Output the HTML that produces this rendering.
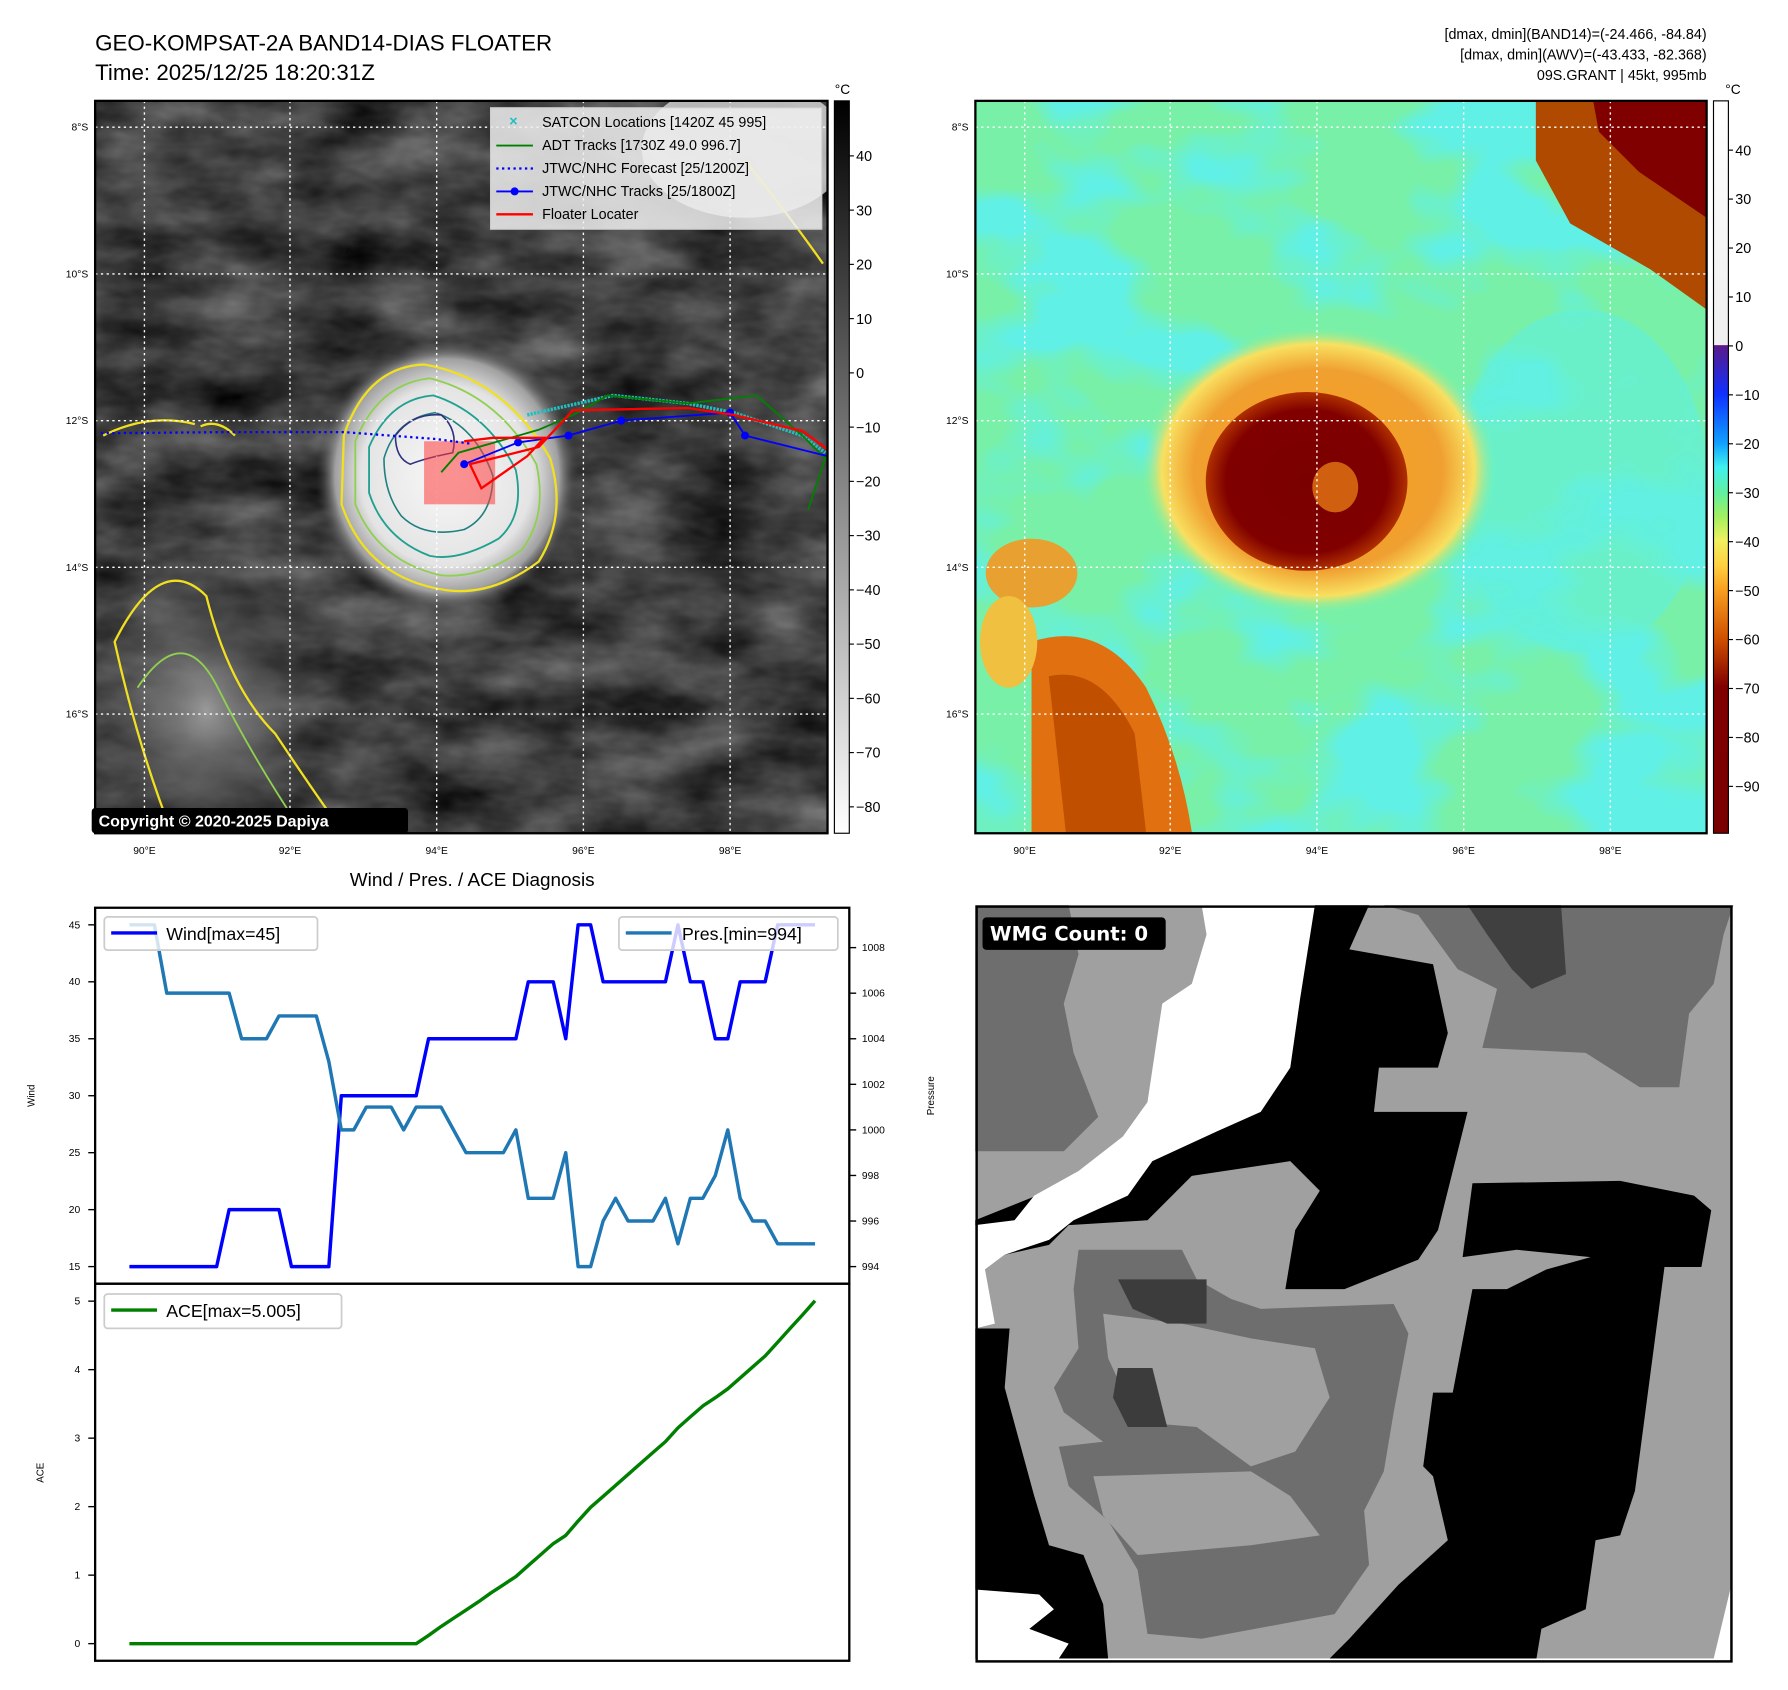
<!DOCTYPE html>
<html><head><meta charset="utf-8"><style>
html,body{margin:0;padding:0;background:#fff;}
svg{display:block;font-family:"Liberation Sans","DejaVu Sans",sans-serif;}
</style></head><body>
<svg id="root" width="1788" height="1690" viewBox="0 0 1560 1474.5" xmlns="http://www.w3.org/2000/svg">
<defs>
<linearGradient id="cb1" x1="0" y1="0" x2="0" y2="1"><stop offset="0" stop-color="#000"/><stop offset="1" stop-color="#fff"/></linearGradient>
<linearGradient id="cb2" x1="0" y1="0" x2="0" y2="1">
<stop offset="0" stop-color="#ffffff"/><stop offset="0.333" stop-color="#efefef"/>
<stop offset="0.334" stop-color="#5a1a8a"/><stop offset="0.40" stop-color="#1030ff"/>
<stop offset="0.467" stop-color="#10a0ff"/><stop offset="0.50" stop-color="#40f0f0"/>
<stop offset="0.534" stop-color="#60f0a0"/><stop offset="0.567" stop-color="#a0f060"/>
<stop offset="0.60" stop-color="#f0f060"/><stop offset="0.634" stop-color="#ffd040"/>
<stop offset="0.667" stop-color="#f8a020"/><stop offset="0.734" stop-color="#d05000"/>
<stop offset="0.80" stop-color="#800000"/><stop offset="1" stop-color="#7a0000"/></linearGradient>
<radialGradient id="storm1"><stop offset="0" stop-color="#f8f8f8"/><stop offset="0.65" stop-color="#e4e4e4"/><stop offset="0.85" stop-color="#a0a0a0"/><stop offset="1" stop-color="#3c3c3c" stop-opacity="0"/></radialGradient>
<radialGradient id="band1"><stop offset="0" stop-color="#9a9a9a"/><stop offset="1" stop-color="#3c3c3c" stop-opacity="0"/></radialGradient>
<radialGradient id="storm2"><stop offset="0" stop-color="#f8a020"/><stop offset="0.7" stop-color="#f0a030"/><stop offset="0.88" stop-color="#f8e060"/><stop offset="1" stop-color="#80f0a0" stop-opacity="0"/></radialGradient>
<radialGradient id="eye2"><stop offset="0" stop-color="#7a0000"/><stop offset="0.8" stop-color="#800000"/><stop offset="1" stop-color="#b03000"/></radialGradient>
<filter id="noise1" x="0" y="0" width="100%" height="100%" color-interpolation-filters="sRGB">
<feTurbulence type="fractalNoise" baseFrequency="0.012 0.025" numOctaves="4" seed="3"/>
<feColorMatrix type="matrix" values="0.55 0 0 0 -0.03  0.55 0 0 0 -0.03  0.55 0 0 0 -0.03  0 0 0 0 1"/>
</filter>
<filter id="noise2" x="0" y="0" width="100%" height="100%" color-interpolation-filters="sRGB">
<feTurbulence type="fractalNoise" baseFrequency="0.008 0.012" numOctaves="3" seed="7"/>
<feColorMatrix type="matrix" values="0 0 0 0 0.38  0 0 0 0 0.94  0 0 0 0 0.9  5 0 0 0 -2.3"/>
</filter>
<clipPath id="c1"><rect x="83" y="88" width="639" height="639"/></clipPath>
<clipPath id="c2"><rect x="851" y="88" width="638" height="639"/></clipPath>
<clipPath id="cw"><rect x="83" y="792" width="658" height="328"/></clipPath>
<clipPath id="ca"><rect x="83" y="1120" width="658" height="329"/></clipPath>
</defs>

<!-- Titles -->
<text x="83" y="44" font-size="19.5">GEO-KOMPSAT-2A BAND14-DIAS FLOATER</text>
<text x="83" y="70" font-size="19.5">Time: 2025/12/25 18:20:31Z</text>
<g font-size="12.5" text-anchor="end">
<text x="1489" y="34">[dmax, dmin](BAND14)=(-24.466, -84.84)</text>
<text x="1489" y="52">[dmax, dmin](AWV)=(-43.433, -82.368)</text>
<text x="1489" y="70">09S.GRANT | 45kt, 995mb</text>
</g>

<!-- Map 1 -->
<g clip-path="url(#c1)">
<rect x="83" y="88" width="639" height="639" fill="#3a3a3a"/>
<rect x="83" y="88" width="639" height="639" filter="url(#noise1)"/>
<ellipse cx="180" cy="620" rx="110" ry="140" fill="url(#band1)"/>
<ellipse cx="650" cy="130" rx="90" ry="60" fill="#d8d8d8" opacity="0.8"/>
<ellipse cx="390" cy="415" rx="115" ry="120" fill="url(#storm1)"/>
<path d="M300 380 Q320 320 370 318 Q440 330 480 400 Q495 450 470 490 Q430 520 390 515 Q320 505 298 440Z" fill="none" stroke="#f0e020" stroke-width="2"/>
<path d="M310 385 Q330 335 375 330 Q435 345 468 405 Q478 450 455 480 Q420 505 385 502 Q330 490 310 440Z" fill="none" stroke="#90d050" stroke-width="1.6"/>
<path d="M322 390 Q340 348 378 345 Q425 360 450 410 Q458 450 435 470 Q400 490 375 485 Q335 470 322 430Z" fill="none" stroke="#20a090" stroke-width="1.6"/>
<path d="M335 400 Q345 365 380 360 Q415 372 430 415 Q430 450 405 462 Q370 470 350 450 Q335 430 335 400Z" fill="none" stroke="#208080" stroke-width="1.4"/>
<path d="M345 380 Q360 360 385 362 Q400 375 395 395 Q370 400 358 405 Q345 400 345 380Z" fill="none" stroke="#303080" stroke-width="1.4"/>
<path d="M100 560 Q140 480 180 520 Q200 600 240 640 Q280 700 300 727 L150 727 Q120 650 100 560Z" fill="none" stroke="#f0e020" stroke-width="2"/>
<path d="M120 600 Q160 540 190 600 Q220 660 260 720" fill="none" stroke="#90d050" stroke-width="1.6"/>
<path d="M90 380 Q130 360 170 370 M175 372 Q190 365 205 380" fill="none" stroke="#f0e020" stroke-width="2"/>
<path d="M650 140 Q690 190 718 230" fill="none" stroke="#f0e020" stroke-width="2"/>
<g stroke="#fff" stroke-width="1.2" stroke-dasharray="2,3" fill="none">
<line x1="126" y1="88" x2="126" y2="727"/><line x1="253" y1="88" x2="253" y2="727"/><line x1="381" y1="88" x2="381" y2="727"/><line x1="509" y1="88" x2="509" y2="727"/><line x1="637" y1="88" x2="637" y2="727"/>
<line x1="83" y1="111" x2="722" y2="111"/><line x1="83" y1="239" x2="722" y2="239"/><line x1="83" y1="367" x2="722" y2="367"/><line x1="83" y1="495" x2="722" y2="495"/><line x1="83" y1="623" x2="722" y2="623"/>
</g>
<rect x="370" y="385" width="62" height="55" fill="rgba(255,60,60,0.55)"/>
<polyline points="88,378 200,377 300,377 380,383 410,387" fill="none" stroke="#0000ff" stroke-width="2" stroke-dasharray="2,3"/>
<polyline points="460,362 535,345 600,352 640,360 700,380 720,395" fill="none" stroke="#20c0c0" stroke-width="3" stroke-dasharray="2,1"/>
<polyline points="385,412 400,395 470,375 500,362 530,345 600,352 660,345 700,380 720,400 705,445" fill="none" stroke="#008000" stroke-width="1.6"/>
<polyline points="405,405 452,386 496,380 542,367 637,360 650,380 722,398" fill="none" stroke="#0000ff" stroke-width="1.6"/>
<g fill="#0000ff"><circle cx="405" cy="405" r="3.5"/><circle cx="452" cy="386" r="3.5"/><circle cx="496" cy="380" r="3.5"/><circle cx="542" cy="367" r="3.5"/><circle cx="637" cy="360" r="3.5"/><circle cx="650" cy="380" r="3.5"/></g>
<polyline points="405,385 430,382 475,382 460,398 420,426 410,405 470,390 500,358 600,356 640,362 700,376 722,392" fill="none" stroke="#ff0000" stroke-width="2"/>
</g>
<rect x="83" y="88" width="639" height="639" fill="none" stroke="#000" stroke-width="2"/>
<g>
<rect x="428" y="94" width="289" height="106" fill="rgba(240,240,240,0.85)" stroke="#ccc"/>
<g font-size="12.5">
<text x="448" y="110" fill="#20c0c0" text-anchor="middle" font-weight="bold">×</text><text x="473" y="111">SATCON Locations [1420Z 45 995]</text>
<line x1="433" y1="127" x2="465" y2="127" stroke="#008000" stroke-width="1.6"/><text x="473" y="131">ADT Tracks [1730Z 49.0 996.7]</text>
<line x1="433" y1="147" x2="465" y2="147" stroke="#0000ff" stroke-width="2" stroke-dasharray="2,3"/><text x="473" y="151">JTWC/NHC Forecast [25/1200Z]</text>
<line x1="433" y1="167" x2="465" y2="167" stroke="#0000ff" stroke-width="1.6"/><circle cx="449" cy="167" r="3.5" fill="#0000ff"/><text x="473" y="171">JTWC/NHC Tracks [25/1800Z]</text>
<line x1="433" y1="187" x2="465" y2="187" stroke="#ff0000" stroke-width="2"/><text x="473" y="191">Floater Locater</text>
</g></g>
<g>
<rect x="80" y="705" width="276" height="22" rx="3" fill="#000"/>
<text x="86" y="721" font-size="14" font-weight="bold" fill="#fff">Copyright © 2020-2025 Dapiya</text>
</g>
<g font-size="9" text-anchor="end">
<text x="77" y="114">8°S</text><text x="77" y="242">10°S</text><text x="77" y="370">12°S</text><text x="77" y="498">14°S</text><text x="77" y="626">16°S</text>
</g>
<g font-size="9" text-anchor="middle">
<text x="126" y="745">90°E</text><text x="253" y="745">92°E</text><text x="381" y="745">94°E</text><text x="509" y="745">96°E</text><text x="637" y="745">98°E</text>
</g>
<g>
<rect x="728" y="88" width="13" height="639" fill="url(#cb1)" stroke="#000" stroke-width="1"/>
<text x="735" y="82" font-size="12" text-anchor="middle">°C</text>
<g id="cb1ticks" font-size="12.5"></g>
</g>

<!-- Map 2 -->
<g clip-path="url(#c2)">
<rect x="851" y="88" width="638" height="639" fill="#78f0a8"/>
<rect x="851" y="88" width="638" height="639" filter="url(#noise2)"/>
<ellipse cx="1380" cy="420" rx="110" ry="150" fill="#60f0e0" opacity="0.6"/>
<path d="M1340 88 L1489 88 L1489 270 L1440 235 L1370 195 L1340 140Z" fill="#b04a00"/>
<path d="M1390 88 L1489 88 L1489 190 L1430 150 L1395 115Z" fill="#800000"/>
<ellipse cx="1150" cy="410" rx="155" ry="125" fill="url(#storm2)"/>
<ellipse cx="1140" cy="420" rx="88" ry="78" fill="url(#eye2)"/>
<ellipse cx="1165" cy="425" rx="20" ry="22" fill="#d06010"/>
<path d="M900 560 Q960 540 1000 600 Q1030 660 1040 727 L900 727Z" fill="#e07010"/>
<path d="M915 590 Q960 580 990 640 L1000 727 L930 727Z" fill="#c05000"/>
<ellipse cx="900" cy="500" rx="40" ry="30" fill="#e8a030"/>
<ellipse cx="880" cy="560" rx="25" ry="40" fill="#f0c040"/>
<g stroke="#fff" stroke-width="1.2" stroke-dasharray="2,3" fill="none">
<line x1="894" y1="88" x2="894" y2="727"/><line x1="1021" y1="88" x2="1021" y2="727"/><line x1="1149" y1="88" x2="1149" y2="727"/><line x1="1277" y1="88" x2="1277" y2="727"/><line x1="1405" y1="88" x2="1405" y2="727"/>
<line x1="851" y1="111" x2="1489" y2="111"/><line x1="851" y1="239" x2="1489" y2="239"/><line x1="851" y1="367" x2="1489" y2="367"/><line x1="851" y1="495" x2="1489" y2="495"/><line x1="851" y1="623" x2="1489" y2="623"/>
</g>
</g>
<rect x="851" y="88" width="638" height="639" fill="none" stroke="#000" stroke-width="2"/>
<g font-size="9" text-anchor="end">
<text x="845" y="114">8°S</text><text x="845" y="242">10°S</text><text x="845" y="370">12°S</text><text x="845" y="498">14°S</text><text x="845" y="626">16°S</text>
</g>
<g font-size="9" text-anchor="middle">
<text x="894" y="745">90°E</text><text x="1021" y="745">92°E</text><text x="1149" y="745">94°E</text><text x="1277" y="745">96°E</text><text x="1405" y="745">98°E</text>
</g>
<g>
<rect x="1495" y="88" width="13" height="639" fill="url(#cb2)" stroke="#000" stroke-width="1"/>
<text x="1512" y="82" font-size="12" text-anchor="middle">°C</text>
<g id="cb2ticks" font-size="12.5"></g>
</g>

<!-- Diagnosis charts -->
<text x="412" y="773" font-size="16.5" text-anchor="middle">Wind / Pres. / ACE Diagnosis</text>
<g id="windPanel">
<g id="windLines" clip-path="url(#cw)"></g>
<rect x="83" y="792" width="658" height="328" fill="none" stroke="#000" stroke-width="2"/>
<g id="windTicks" font-size="9"></g>
<text transform="translate(30,956) rotate(-90)" font-size="8.5" text-anchor="middle">Wind</text>
<text transform="translate(815,956) rotate(-90)" font-size="8.5" text-anchor="middle">Pressure</text>
</g>
<g id="acePanel">
<g id="aceLines" clip-path="url(#ca)"></g>
<rect x="83" y="1120" width="658" height="329" fill="none" stroke="#000" stroke-width="2"/>
<g id="aceTicks" font-size="9"></g>
<text transform="translate(38,1285) rotate(-90)" font-size="8.5" text-anchor="middle">ACE</text>
</g>
<g>
<rect x="91" y="800" width="186" height="29" rx="3" fill="rgba(255,255,255,0.8)" stroke="#ccc" stroke-width="1.5"/>
<line x1="97" y1="814" x2="137" y2="814" stroke="#0000ff" stroke-width="3"/>
<text x="145" y="820" font-size="15.5">Wind[max=45]</text></g>
<g>
<rect x="540" y="800" width="191" height="29" rx="3" fill="rgba(255,255,255,0.8)" stroke="#ccc" stroke-width="1.5"/>
<line x1="546" y1="814" x2="586" y2="814" stroke="#1f77b4" stroke-width="3"/>
<text x="595" y="820" font-size="15.5">Pres.[min=994]</text></g>
<g>
<rect x="91" y="1129" width="207" height="30" rx="3" fill="rgba(255,255,255,0.8)" stroke="#ccc" stroke-width="1.5"/>
<line x1="97" y1="1143" x2="137" y2="1143" stroke="#008000" stroke-width="3"/>
<text x="145" y="1149" font-size="15.5">ACE[max=5.005]</text></g>

<!-- WMG panel -->
<svg x="850.8" y="789.7" width="662" height="662" viewBox="0 0 1541 1541">
<rect x="5" y="5" width="1531" height="1525" fill="#a0a0a0"/>
<polygon fill="#6e6e6e" points="0,0 190,0 210,100 180,200 200,300 250,430 180,500 0,500"/>
<polygon fill="#6e6e6e" points="830,0 1540,0 1520,60 1500,160 1450,220 1430,370 1350,370 1240,300 1030,290 1060,170 980,130 900,20"/>
<polygon fill="#404040" points="1000,0 1190,0 1200,140 1130,170 1090,130 1040,60"/>
<polygon fill="#000" points="690,0 800,0 760,90 930,120 960,260 940,330 820,330 810,420 1000,420 940,660 900,720 750,780 630,780 650,660 700,580 640,520 440,550 350,640 190,650 150,690 60,710 20,740 0,860 0,640 200,560 400,420 560,300 620,200"/>
<polygon fill="#fff" points="460,0 690,0 660,190 640,330 580,420 490,460 360,520 310,590 200,640 150,680 60,710 20,740 40,850 0,860 0,650 80,640 120,590 210,540 300,470 350,400 380,200 440,160 470,60"/>
<polygon fill="#000" points="1010,565 1310,560 1460,590 1495,620 1475,735 1400,735 1340,1190 1310,1280 1260,1290 1240,1430 1150,1470 1140,1530 720,1530 760,1490 860,1380 960,1290 930,1160 910,1140 930,990 970,990 1010,780 1080,780 1160,740 1250,715 1100,700 990,715"/>
<polygon fill="#000" points="0,860 70,860 60,980 120,1200 150,1300 220,1320 260,1420 270,1530 0,1530"/>
<polygon fill="#fff" points="0,1390 130,1400 160,1430 110,1470 190,1500 170,1530 0,1530"/>
<polygon fill="#6e6e6e" points="210,700 420,700 450,760 520,800 580,820 850,810 880,870 850,1030 830,1150 790,1230 800,1340 730,1440 460,1490 350,1480 330,1350 270,1250 190,1180 170,1100 260,1090 180,1030 160,980 210,900 200,780"/>
<polygon fill="#a0a0a0" points="260,830 420,850 560,880 690,900 720,1000 650,1110 560,1140 450,1060 330,1050 270,920"/>
<polygon fill="#a0a0a0" points="240,1160 560,1150 640,1200 700,1280 560,1300 330,1320 260,1240"/>
<polygon fill="#3c3c3c" points="290,760 470,760 470,850 390,850 320,820"/>
<polygon fill="#3c3c3c" points="290,940 360,940 390,1060 310,1060 280,1000"/>
<polygon fill="#fff" points="1500,1530 1536,1380 1536,1530"/>
<rect x="3" y="3" width="1533" height="1533" fill="none" stroke="#000" stroke-width="5"/>
<g>
<rect x="15" y="25" width="372" height="66" rx="8" fill="#000"/>
<text x="30" y="72" font-size="40" font-weight="bold" fill="#fff" font-family="DejaVu Sans, sans-serif">WMG Count: 0</text></g>
</svg>
</svg>
<script>
const windValues=[15,15,15,15,15,15,15,15,20,20,20,20,20,15,15,15,15,30,30,30,30,30,30,30,35,35,35,35,35,35,35,35,40,40,40,35,45,45,40,40,40,40,40,40,45,40,40,35,35,40,40,40,45,45,45,45];
const presValues=[1009,1009,1009,1006,1006,1006,1006,1006,1006,1004,1004,1004,1005,1005,1005,1005,1003,1000,1000,1001,1001,1001,1000,1001,1001,1001,1000,999,999,999,999,1000,997,997,997,999,994,994,996,997,996,996,996,997,995,997,997,998,1000,997,996,996,995,995,995,995];
const aceValues=[0,0,0,0,0,0,0,0,0,0,0,0,0,0,0,0,0,0,0,0,0,0,0,0,0.12,0.25,0.37,0.49,0.61,0.74,0.86,0.98,1.14,1.30,1.46,1.58,1.79,1.99,2.15,2.31,2.47,2.63,2.79,2.95,3.15,3.31,3.47,3.59,3.72,3.88,4.04,4.20,4.40,4.60,4.80,5.005];
const windTicks=[15,20,25,30,35,40,45];
const presTicks=[994,996,998,1000,1002,1004,1006,1008];
const aceTicks=[0,1,2,3,4,5];
const cb1Ticks=[40,30,20,10,0,-10,-20,-30,-40,-50,-60,-70,-80];
const cb2Ticks=[40,30,20,10,0,-10,-20,-30,-40,-50,-60,-70,-80,-90];

const NS="http://www.w3.org/2000/svg";
const n=windValues.length;
const xS=i=>83+(i+2.75)/(n-1+5.5)*658;
const yWind=v=>1120-(v-13.5)/33*328;
const yPres=v=>1120-(v-993.25)/16.5*328;
const yAce=v=>1449-(v+0.25)/5.505*329;
const yCb1=v=>136+(40-v)*4.733;
const yCb2=v=>131+(40-v)*4.27;
function mk(tag,attrs,parent){const e=document.createElementNS(NS,tag);for(const k in attrs)e.setAttribute(k,attrs[k]);parent.appendChild(e);return e;}
function poly(vals,yf,color,parent,name){
  const pts=vals.map((v,i)=>xS(i).toFixed(1)+','+yf(v).toFixed(1)).join(' ');
  const p=mk('polyline',{points:pts,fill:'none',stroke:color,'stroke-width':3,'stroke-linejoin':'round'},parent);
  
  
}
const wl=document.getElementById('windLines');
poly(windValues,yWind,'#0000ff',wl,'wind-line');
poly(presValues,yPres,'#1f77b4',wl,'pressure-line');
poly(aceValues,yAce,'#008000',document.getElementById('aceLines'),'ace-line');
const wt=document.getElementById('windTicks');
windTicks.forEach(v=>{const y=yWind(v);
  const l=mk('line',{x1:77,x2:83,y1:y,y2:y,stroke:'#000','stroke-width':1.2},wt);
  
  
  const t=mk('text',{x:70,y:y+3,'text-anchor':'end'},wt);t.textContent=v;
  
  });
presTicks.forEach(v=>{const y=yPres(v);
  const l=mk('line',{x1:741,x2:747,y1:y,y2:y,stroke:'#000','stroke-width':1.2},wt);
  
  
  const t=mk('text',{x:752,y:y+3},wt);t.textContent=v;
  
  });
const at=document.getElementById('aceTicks');
aceTicks.forEach(v=>{const y=yAce(v);
  const l=mk('line',{x1:77,x2:83,y1:y,y2:y,stroke:'#000','stroke-width':1.2},at);
  
  
  const t=mk('text',{x:70,y:y+3,'text-anchor':'end'},at);t.textContent=v;
  
  });
const c1=document.getElementById('cb1ticks');
cb1Ticks.forEach(v=>{const y=yCb1(v);
  mk('line',{x1:741,x2:745,y1:y,y2:y,stroke:'#000'},c1);
  const t=mk('text',{x:747,y:y+4.5},c1);t.textContent=String(v).replace('-','\u2212');
  
  });
const c2=document.getElementById('cb2ticks');
cb2Ticks.forEach(v=>{const y=yCb2(v);
  mk('line',{x1:1508,x2:1512,y1:y,y2:y,stroke:'#000'},c2);
  const t=mk('text',{x:1514,y:y+4.5},c2);t.textContent=String(v).replace('-','\u2212');
  
  });
</script>
</body></html>
